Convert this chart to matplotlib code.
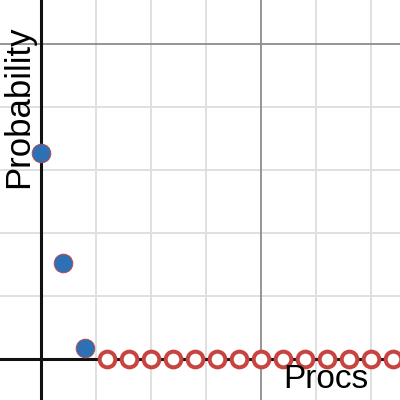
import matplotlib.pyplot as plt

# number of processes vs probability
procs = list(range(0, 17))
prob = [0.655, 0.306, 0.036] + [0.0] * 14

blue = "#2d70b3"
red = "#c74440"

fig = plt.figure(figsize=(4, 4), dpi=100)
ax = fig.add_axes([0, 0, 1, 1])
ax.set_xlim(-1.86, 16.32)
ax.set_ylim(-0.13, 1.141)

# grid like the graphing calculator
for gx in [2.5, 5, 7.5, 12.5, 15]:
    ax.axvline(gx, color="#e0e0e0", lw=1.4, zorder=0)
for gy in [0.2, 0.4, 0.6, 0.8]:
    ax.axhline(gy, color="#e0e0e0", lw=1.4, zorder=0)
ax.axvline(10, color="#8c8c8c", lw=1.3, zorder=0)
ax.axhline(1.0, color="#8c8c8c", lw=1.3, zorder=0)
ax.axhline(0, color="#111111", lw=2.2, zorder=1)
ax.axvline(0, color="#111111", lw=2.2, zorder=1)

for spine in ax.spines.values():
    spine.set_visible(False)
ax.set_xticks([])
ax.set_yticks([])

nz = [(x, p) for x, p in zip(procs, prob) if p > 0]
zs = [x for x, p in zip(procs, prob) if p == 0]

ax.plot([x for x, p in nz], [p for x, p in nz], "o", ms=13.5, mfc=blue,
        mec=red, mew=0.6, zorder=3)
ax.plot(zs, [0] * len(zs), "o", ms=11.3, mfc="white", mec=red, mew=2.9,
        zorder=3)

fig.text(0.92, 0.03, "Procs", ha="right", va="baseline", fontsize=24,
         family="Liberation Sans")
fig.text(0.07, 0.936, "Probability", rotation=90, rotation_mode="anchor",
         ha="right", va="baseline", fontsize=25, family="Liberation Sans")

fig.savefig("out.png")
